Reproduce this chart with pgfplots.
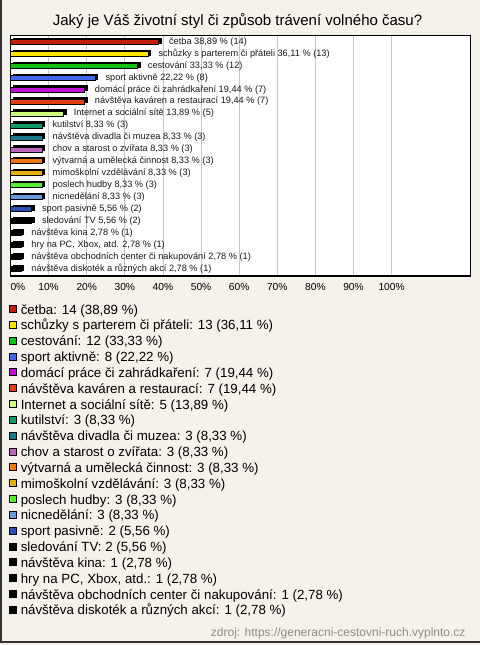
\documentclass[border=0pt]{standalone}
\usepackage{pgfplots}
\pgfplotsset{compat=1.18}
\usepackage{fontspec}
\setmainfont{Liberation Sans}
\definecolor{bg}{HTML}{F4F2EA}
\definecolor{c1}{HTML}{C0200C}
\definecolor{c2}{HTML}{FFE500}
\definecolor{c3}{HTML}{12C012}
\definecolor{c4}{HTML}{4466EE}
\definecolor{c5}{HTML}{C010D0}
\definecolor{c6}{HTML}{E04010}
\definecolor{c7}{HTML}{CCFF77}
\definecolor{c8}{HTML}{119966}
\definecolor{c9}{HTML}{1A7A8C}
\definecolor{c10}{HTML}{BB66BB}
\definecolor{c11}{HTML}{EE7711}
\definecolor{c12}{HTML}{E5B010}
\definecolor{c13}{HTML}{55EE33}
\definecolor{c14}{HTML}{6699DD}
\definecolor{c15}{HTML}{2B4FB0}
\definecolor{c16}{HTML}{000000}
\newcommand{\mybar}[5]{%
  \addplot[fill=black, draw=black, line width=0.8bp, bar shift=1.2bp,
    transform canvas={xshift=2.5bp}, forget plot]
    coordinates {(#2,#3)};
  \addplot[fill=#1, draw=black, line width=0.8bp, bar shift=0pt,
    nodes near coords, point meta=explicit symbolic]
    coordinates {(#2,#3) [{#4}]};
  \addlegendentry{#5}}
\begin{document}
\begin{tikzpicture}
\fill[bg] (0,0) rectangle (480bp,-645bp);
\useasboundingbox (0,0) rectangle (480bp,-645bp);
\draw[line width=1.5bp, black!80] (0.75bp,0) -- (0.75bp,-642.2bp) -- (480bp,-642.2bp);
\node[anchor=base, font=\fontsize{15bp}{18bp}\selectfont] at (237.5bp,-25.7bp)
  {Jaký je Váš životní styl či způsob trávení volného času?};
\node[anchor=base east, font=\fontsize{12bp}{14bp}\selectfont, text=black!45] at (469bp,-636bp)
  {zdroj: https://generacni-cestovni-ruch.vyplnto.cz};
\begin{axis}[
  at={(10.5bp,-35.5bp)}, anchor=north west,
  scale only axis, width=460bp, height=240.5bp,
  axis background/.style={fill=white},
  xmin=0, xmax=120.7, ymin=-0.58, ymax=19.52,
  xbar, bar shift=0pt, bar width=5bp,
  xtick={0,10,...,100},
  xticklabels={\makebox[0pt][l]{0\%},10\%,20\%,30\%,40\%,50\%,60\%,70\%,80\%,90\%,100\%},
  ytick=\empty,
  major tick length=0pt,
  xmajorgrids, grid style={color=black!22, line width=0.8bp},
  axis line style={line width=1.3bp},
  xticklabel style={font=\fontsize{10.2bp}{12bp}\selectfont, anchor=base, yshift=-14.3bp, inner sep=0pt},
  every node near coord/.append style={font=\fontsize{9.2bp}{11bp}\selectfont, anchor=west, inner sep=0pt, xshift=10bp, text=black!90},
  legend image code/.code={\path (0bp,0bp) (11bp,0bp); \draw[#1, draw=black, line width=0.8bp] (0.4bp,1.6bp) rectangle (7.4bp,8.6bp);},
  legend cell align=left,
  legend style={at={(axis description cs:-0.00326,-0.11642)}, anchor=north west,
    draw=none, fill=none, inner sep=0pt, outer sep=0pt, row sep=2.84bp, column sep=0pt,
    font=\fontsize{13.3bp}{15bp}\selectfont,
    cells={anchor=base west},
    nodes={inner sep=0pt, text height=10bp, text depth=3bp}},
]
\mybar{c1}{38.89}{19}{četba 38,89 \% (14)}{četba: 14 (38,89 \%)}
\mybar{c2}{36.11}{18}{schůzky s parterem či přáteli 36,11 \% (13)}{schůzky s parterem či přáteli: 13 (36,11 \%)}
\mybar{c3}{33.33}{17}{cestování 33,33 \% (12)}{cestování: 12 (33,33 \%)}
\mybar{c4}{22.22}{16}{sport aktivně 22,22 \% (8)}{sport aktivně: 8 (22,22 \%)}
\mybar{c5}{19.44}{15}{domácí práce či zahrádkaření 19,44 \% (7)}{domácí práce či zahrádkaření: 7 (19,44 \%)}
\mybar{c6}{19.44}{14}{návštěva kaváren a restaurací 19,44 \% (7)}{návštěva kaváren a restaurací: 7 (19,44 \%)}
\mybar{c7}{13.89}{13}{Internet a sociální sítě 13,89 \% (5)}{Internet a sociální sítě: 5 (13,89 \%)}
\mybar{c8}{8.33}{12}{kutilství 8,33 \% (3)}{kutilství: 3 (8,33 \%)}
\mybar{c9}{8.33}{11}{návštěva divadla či muzea 8,33 \% (3)}{návštěva divadla či muzea: 3 (8,33 \%)}
\mybar{c10}{8.33}{10}{chov a starost o zvířata 8,33 \% (3)}{chov a starost o zvířata: 3 (8,33 \%)}
\mybar{c11}{8.33}{9}{výtvarná a umělecká činnost 8,33 \% (3)}{výtvarná a umělecká činnost: 3 (8,33 \%)}
\mybar{c12}{8.33}{8}{mimoškolní vzdělávání 8,33 \% (3)}{mimoškolní vzdělávání: 3 (8,33 \%)}
\mybar{c13}{8.33}{7}{poslech hudby 8,33 \% (3)}{poslech hudby: 3 (8,33 \%)}
\mybar{c14}{8.33}{6}{nicnedělání 8,33 \% (3)}{nicnedělání: 3 (8,33 \%)}
\mybar{c15}{5.56}{5}{sport pasivně 5,56 \% (2)}{sport pasivně: 2 (5,56 \%)}
\mybar{c16}{5.56}{4}{sledování TV 5,56 \% (2)}{sledování TV: 2 (5,56 \%)}
\mybar{c16}{2.78}{3}{návštěva kina 2,78 \% (1)}{návštěva kina: 1 (2,78 \%)}
\mybar{c16}{2.78}{2}{hry na PC, Xbox, atd. 2,78 \% (1)}{hry na PC, Xbox, atd.: 1 (2,78 \%)}
\mybar{c16}{2.78}{1}{návštěva obchodních center či nakupování 2,78 \% (1)}{návštěva obchodních center či nakupování: 1 (2,78 \%)}
\mybar{c16}{2.78}{0}{návštěva diskoték a různých akcí 2,78 \% (1)}{návštěva diskoték a různých akcí: 1 (2,78 \%)}
\end{axis}
\end{tikzpicture}
\end{document}
